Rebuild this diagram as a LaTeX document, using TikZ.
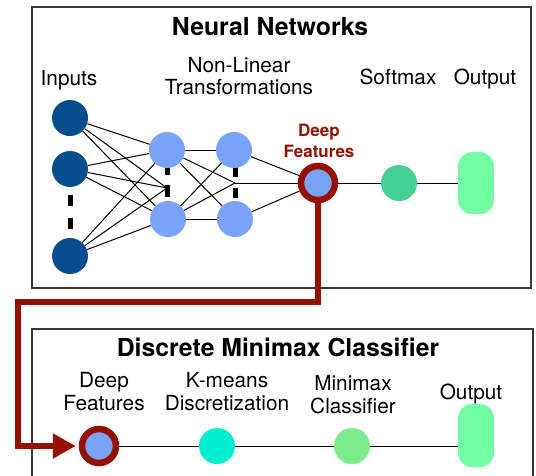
\documentclass[tikz,border=0pt]{standalone}
\usepackage{fontspec}
\setmainfont{TeX Gyre Heros}
\usetikzlibrary{arrows.meta,backgrounds}

\definecolor{inblue}{RGB}{8,78,143}
\definecolor{hidblue}{RGB}{122,162,246}
\definecolor{deepred}{RGB}{148,17,0}
\definecolor{softgreen}{RGB}{68,207,150}
\definecolor{outgreen}{RGB}{115,254,164}
\definecolor{kcyan}{RGB}{0,238,210}
\definecolor{mmgreen}{RGB}{125,235,138}
\definecolor{boxgray}{RGB}{55,55,55}

\begin{document}
\begin{tikzpicture}[x=1pt,y=-1pt,
  lbl/.style={font=\fontsize{20.8}{22}\selectfont, anchor=base, inner sep=0pt},
  ttl/.style={font=\bfseries\fontsize{24.8}{26}\selectfont, anchor=base, inner sep=0pt},
  redlbl/.style={font=\bfseries\fontsize{17}{19}\selectfont, anchor=base, inner sep=0pt, text=deepred},
  unit/.style={circle, minimum size=36pt, inner sep=0pt, draw=none},
  featunit/.style={circle, minimum size=34pt, inner sep=0pt, draw=deepred, line width=6.5pt, fill=hidblue},
  outbox/.style={rectangle, rounded corners=14pt, minimum width=36pt, inner sep=0pt, fill=outgreen},
  conn/.style={draw=black, line width=1pt},
  vdots/.style={line width=5pt, draw=black},
  frame/.style={draw=boxgray, line width=1.4pt},
  redpath/.style={draw=deepred, line width=5.5pt, line join=miter}
]
\useasboundingbox (0,0) rectangle (536,475);
\clip (0,0) rectangle (536,475);

% frames of the two panels
\draw[frame] (32,7) rectangle (531,288);
\draw[frame] (32,329) rectangle (533,500);

% titles and labels
\node[ttl] (t1) at (270,35) {Neural Networks};
\node[lbl] (linp) at (69,85) {Inputs};
\node[lbl] (lnl1) at (239,72) {Non-Linear};
\node[lbl] (lnl2) at (239,94) {Transformations};
\node[lbl] (lsm) at (398,84) {Softmax};
\node[lbl] (lout) at (485,84) {Output};
\node[redlbl] (ldf1) at (319,136) {Deep};
\node[redlbl] (ldf2) at (319,157) {Features};

\node[ttl] (t2) at (278,356) {Discrete Minimax Classifier};
\node[lbl] (bdf1) at (104,387) {Deep};
\node[lbl] (bdf2) at (104,410) {Features};
\node[lbl] (bkm1) at (227,387) {K-means};
\node[lbl] (bkm2) at (227,410) {Discretization};
\node[lbl] (bmm1) at (353,390) {Minimax};
\node[lbl] (bmm2) at (353,413) {Classifier};
\node[lbl] (bout) at (471,399) {Output};

% network units
\node[unit, fill=inblue] (i1) at (70,118) {};
\node[unit, fill=inblue] (i2) at (70,169) {};
\node[unit, fill=inblue] (i3) at (70,256) {};
\node[unit, fill=hidblue] (ha1) at (167,150) {};
\node[unit, fill=hidblue] (ha2) at (168,219) {};
\node[unit, fill=hidblue] (hb1) at (234,150) {};
\node[unit, fill=hidblue] (hb2) at (235,219) {};
\coordinate (ma) at (167,188);
\coordinate (mb) at (235,183);
\node[featunit] (df) at (318,183) {};
\node[unit, fill=softgreen] (sm) at (399,183) {};
\node[outbox, minimum height=62pt] (out1) at (476,183) {};

% classifier units
\node[featunit] (df2) at (99,446) {};
\node[unit, fill=kcyan] (km) at (217,446) {};
\node[unit, fill=mmgreen] (mm) at (352,446) {};
\node[outbox, minimum height=63pt] (out2) at (476,435.5) {};

\begin{scope}[on background layer]
  % ellipsis marks
  \draw[vdots] (70,195) -- (70,206);
  \draw[vdots] (70,218) -- (70,229);
  \draw[vdots] (167,166) -- (167,175);
  \draw[vdots] (167,185) -- (167,197);
  \draw[vdots] (235,166) -- (235,177);
  \draw[vdots] (235,188) -- (235,198);
  % inputs to first hidden layer
  \foreach \s in {i1,i2,i3} {
    \draw[conn] (\s) -- (ha1);
    \draw[conn] (\s) -- (ma);
    \draw[conn] (\s) -- (ha2);
  }
  % first to second hidden layer
  \foreach \s in {ha1,ha2} {
    \draw[conn] (\s) -- (hb1);
    \draw[conn] (\s) -- (mb);
    \draw[conn] (\s) -- (hb2);
  }
  % second hidden layer to deep features
  \draw[conn] (hb1) -- (df);
  \draw[conn] (mb) -- (df);
  \draw[conn] (hb2) -- (df);
  \draw[conn] (df) -- (sm);
  \draw[conn] (sm) -- (out1);
  % classifier chain
  \draw[conn] (df2) -- (km);
  \draw[conn] (km) -- (mm);
  \draw[conn] (mm) -- (mm -| out2.west);
\end{scope}

% deep features passed to the classifier
\coordinate (r1) at (318,302);
\coordinate (r2) at (18,302);
\coordinate (r3) at (18,446);
\draw[redpath, -{Triangle[length=23pt,width=24pt]}, shorten >=3pt]
  (df.south) -- (r1) -- (r2) -- (r3) -- (df2.west);
\end{tikzpicture}
\end{document}
